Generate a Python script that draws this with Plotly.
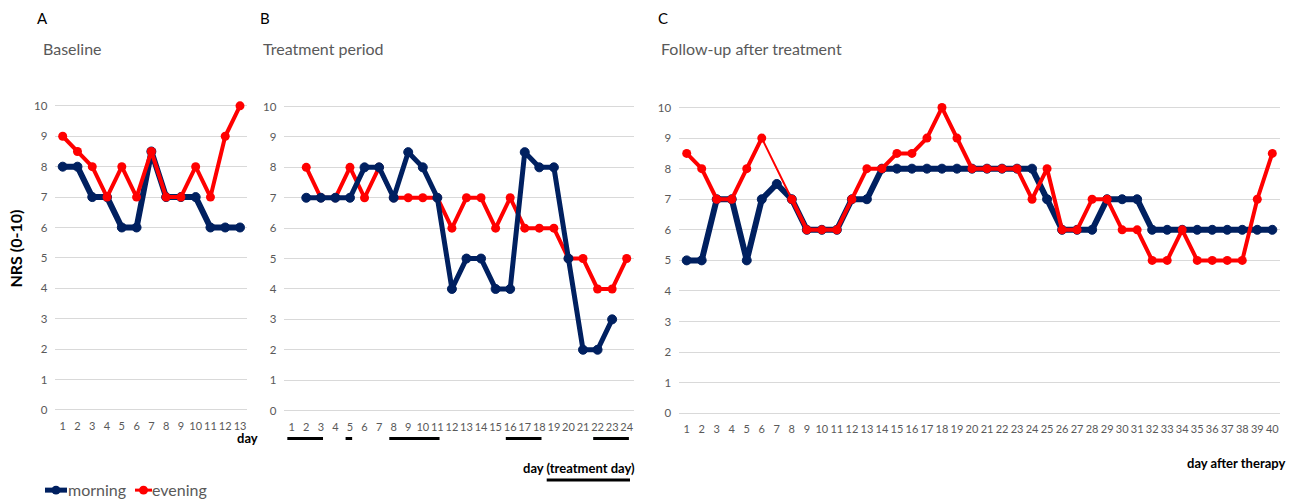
import plotly.graph_objects as go

W, H = 1294, 502

# ---- data -------------------------------------------------------------
baseline_days = list(range(1, 14))
baseline_morning = [8, 8, 7, 7, 6, 6, 8.5, 7, 7, 7, 6, 6, 6]
baseline_evening = [9, 8.5, 8, 7, 8, 7, 8.5, 7, 7, 8, 7, 9, 10]

treatment_days = list(range(1, 25))
treatment_morning = [None, 7, 7, 7, 7, 8, 8, 7, 8.5, 8, 7, 4, 5, 5, 4, 4,
                     8.5, 8, 8, 5, 2, 2, 3, None]
treatment_evening = [None, 8, 7, 7, 8, 7, 8, 7, 7, 7, 7, 6, 7, 7, 6, 7,
                     6, 6, 6, 5, 5, 4, 4, 5]
# days on which treatment was given (first day, last day)
treatment_blocks = [(1, 3), (5, 5), (8, 11), (16, 18), (22, 24)]

followup_days = list(range(1, 41))
followup_morning = [5, 5, 7, 7, 5, 7, 7.5, 7, 6, 6,
                    6, 7, 7, 8, 8, 8, 8, 8, 8, 8,
                    8, 8, 8, 8, 7, 6, 6, 6, 7, 7,
                    7, 6, 6, 6, 6, 6, 6, 6, 6, 6]
followup_evening = [8.5, 8, 7, 7, 8, 9, None, 7, 6, 6,
                    6, 7, 8, 8, 8.5, 8.5, 9, 10, 9, 8,
                    8, 8, 8, 7, 8, 6, 6, 7, 7, 6,
                    6, 5, 5, 6, 5, 5, 5, 5, 7, 8.5]

y_ticks = list(range(0, 11))
series_names = ["morning", "evening"]

# ---- styling ----------------------------------------------------------
NAVY = "#002060"
RED = "#FF0000"
GREY_TXT = "#595959"
GRID = "#d9d9d9"
FONT = "Lato, 'Open Sans', sans-serif"


def px_x(px):
    return px / W


def px_y(py):
    return 1 - py / H


def x_domain(first_px, last_px, n):
    step = (last_px - first_px) / (n - 1)
    return [px_x(first_px - step / 2), px_x(last_px + step / 2)]


def y_domain(zero_px, ten_px):
    step = (zero_px - ten_px) / 10
    return [px_y(zero_px + 0.1 * step), px_y(ten_px - 0.1 * step)]


fig = go.Figure()


def morning_trace(x, y, xa, ya, width=6):
    return go.Scatter(
        x=x, y=y, xaxis=xa, yaxis=ya, mode="lines+markers", name=series_names[0],
        line=dict(color=NAVY, width=width),
        marker=dict(symbol="circle", size=9, color=NAVY,
                    line=dict(color=NAVY, width=1)),
        showlegend=False, cliponaxis=False,
    )


def evening_trace(x, y, xa, ya, width=4):
    return go.Scatter(
        x=x, y=y, xaxis=xa, yaxis=ya, mode="lines+markers", name=series_names[1],
        line=dict(color=RED, width=width),
        marker=dict(symbol="circle", size=9, color=RED),
        showlegend=False, cliponaxis=False,
    )


# A: baseline
fig.add_trace(morning_trace(baseline_days, baseline_morning, "x", "y"))
fig.add_trace(evening_trace(baseline_days, baseline_evening, "x", "y"))

# B: treatment period (morning drawn over evening)
fig.add_trace(evening_trace(treatment_days, treatment_evening, "x2", "y2"))
fig.add_trace(morning_trace(treatment_days, treatment_morning, "x2", "y2", width=5))

# C: follow-up; missing evening value bridged by a thin line
fig.add_trace(morning_trace(followup_days, followup_morning, "x3", "y3"))
fig.add_trace(go.Scatter(
    x=followup_days, y=followup_evening, xaxis="x3", yaxis="y3", mode="lines",
    connectgaps=True, line=dict(color=RED, width=2), showlegend=False,
    hoverinfo="skip", cliponaxis=False,
))
fig.add_trace(evening_trace(followup_days, followup_evening, "x3", "y3"))

tick_font = dict(family=FONT, size=11.5, color=GREY_TXT)
x_tick_font = dict(family=FONT, size=11, color=GREY_TXT)


def xaxis(n, dom):
    return dict(domain=dom, range=[0.5, n + 0.5], tickmode="array",
                tickvals=list(range(1, n + 1)), showgrid=False, zeroline=False,
                showline=False, ticks="", tickfont=x_tick_font, tickangle=0,
                ticklabelstandoff=5, fixedrange=True)


def yaxis(dom, anchor):
    return dict(domain=dom, range=[-0.1, 10.1], tickmode="array",
                tickvals=y_ticks, showgrid=True, gridcolor=GRID, gridwidth=1,
                zeroline=False, showline=False, ticks="", tickfont=tick_font,
                anchor=anchor, ticklabelstandoff=7, fixedrange=True)


fig.update_layout(
    width=W, height=H,
    margin=dict(l=0, r=0, t=0, b=0),
    paper_bgcolor="white", plot_bgcolor="white",
    font=dict(family=FONT, color=GREY_TXT),
    xaxis=xaxis(13, x_domain(62.7, 240.0, 13)) | dict(anchor="y"),
    yaxis=yaxis(y_domain(411.7, 103.3), "x"),
    xaxis2=xaxis(24, x_domain(291.7, 626.7, 24)) | dict(anchor="y2"),
    yaxis2=yaxis(y_domain(412.3, 104.0), "x2"),
    xaxis3=xaxis(40, x_domain(686.7, 1272.3, 40)) | dict(anchor="y3"),
    yaxis3=yaxis(y_domain(415.0, 105.0), "x3"),
    showlegend=False,
)

# treatment-day markers under panel B
shapes = []
for start, end in treatment_blocks:
    shapes.append(dict(type="line", xref="x2", yref="paper",
                       x0=start - 0.3, x1=end + 0.15,
                       y0=px_y(440.7), y1=px_y(440.7),
                       line=dict(color="black", width=3)))
shapes.append(dict(type="line", xref="paper", yref="paper",
                   x0=px_x(546.7), x1=px_x(630), y0=px_y(482.7), y1=px_y(482.7),
                   line=dict(color="black", width=3)))

# legend keys (line with a dot), drawn in page pixels
LEG_Y = 493
for (x0, x1, color, lw) in [(45, 67, NAVY, 5), (135, 152, RED, 3)]:
    shapes.append(dict(type="line", xref="paper", yref="paper",
                       x0=px_x(x0), x1=px_x(x1), y0=px_y(LEG_Y), y1=px_y(LEG_Y),
                       line=dict(color=color, width=lw)))
    cx = (x0 + x1) / 2
    shapes.append(dict(type="circle", xref="paper", yref="paper",
                       x0=px_x(cx - 4.5), x1=px_x(cx + 4.5),
                       y0=px_y(LEG_Y + 4.5), y1=px_y(LEG_Y - 4.5),
                       fillcolor=color, line=dict(color=color, width=0)))
fig.update_layout(shapes=shapes)

annotations = []


def text(x, y, s, size, color, bold=False, xanchor="left", angle=0):
    annotations.append(dict(
        x=px_x(x), y=px_y(y), xref="paper", yref="paper", text=f"<b>{s}</b>" if bold else s,
        showarrow=False, xanchor=xanchor, yanchor="middle", textangle=angle,
        font=dict(family=FONT, size=size, color=color),
    ))


text(35, 14, "A", 15, "black")
text(258, 14, "B", 15, "black")
text(656, 14, "C", 15, "black")
text(41, 45, "Baseline", 16, GREY_TXT)
text(261, 45, "Treatment period", 16, GREY_TXT)
text(659, 45, "Follow-up after treatment", 16, GREY_TXT)
text(16, 248, "NRS (0-10)", 16, "black", bold=True, xanchor="center", angle=-90)
text(247, 440, "day", 13, "black", bold=True, xanchor="center")
text(579, 471, "day (treatment day)", 13, "black", bold=True, xanchor="center")
text(1236, 465, "day after therapy", 13, "black", bold=True, xanchor="center")
text(66, 492, series_names[0], 16, GREY_TXT)
text(150, 492, series_names[1], 16, GREY_TXT)
fig.update_layout(annotations=annotations)

fig.write_html("out.html")
